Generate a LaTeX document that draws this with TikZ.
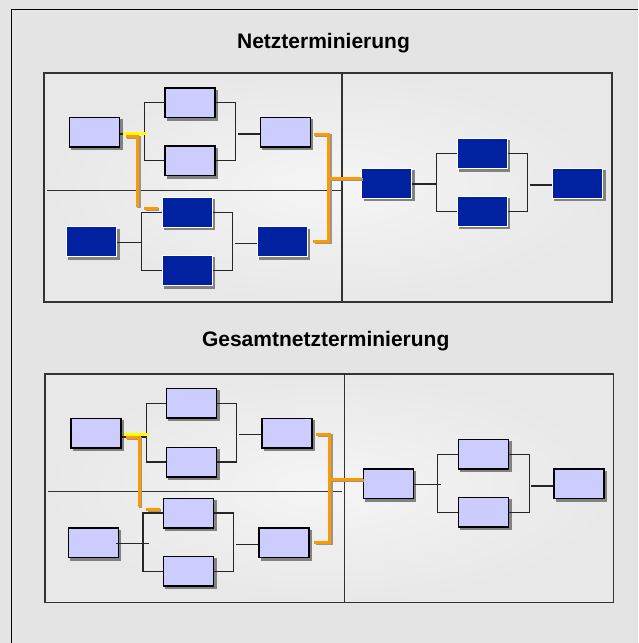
\documentclass[tikz,border=0pt]{standalone}
\usepackage{fontspec}
\setmainfont{Liberation Sans}
\definecolor{bgc}{RGB}{228,228,228}
\definecolor{panelin}{RGB}{245,245,245}
\definecolor{panelout}{RGB}{232,232,232}
\definecolor{lightb}{RGB}{204,204,255}
\definecolor{darkb}{RGB}{0,34,160}
\definecolor{orng}{RGB}{255,153,0}
\definecolor{ylw}{RGB}{255,255,0}
\definecolor{shd}{RGB}{130,130,130}
\definecolor{oshd}{RGB}{150,150,150}
\begin{document}
\begin{tikzpicture}[x=1pt,y=-1pt,
  boxshadow/.style={preaction={draw=shd,fill=shd,line width=1.4pt,transform canvas={xshift=2.4pt,yshift=-2.4pt}}},
  lbox/.style={boxshadow,draw=black,line width=1.5pt,fill=lightb,minimum width=50pt,minimum height=29.5pt,inner sep=0pt},
  dbox/.style={boxshadow,draw=white,line width=1pt,fill=darkb,minimum width=50pt,minimum height=30pt,inner sep=0pt},
  conn/.style={draw=black!85,line width=1.3pt},
  panelfill/.style={inner color=panelin,outer color=panelout},
  panel/.style={draw=black!80,line width=1.4pt},
  divider/.style={draw=black!80,line width=1.3pt},
  oline/.style={draw=orng,line width=3.3pt},
  oshadow/.style={draw=oshd,line width=3.3pt,transform canvas={xshift=1.2pt,yshift=-1.2pt}},
  yline/.style={draw=ylw,line width=3pt},
  title/.style={font=\fontsize{21}{25}\selectfont\bfseries,inner sep=0pt}
]
\useasboundingbox (0,0) rectangle (638,643);
\fill[bgc] (0,0) rectangle (638,643);
\draw[black,line width=1pt] (11,643) -- (11,9.5) -- (638,9.5);

% ---------------- top ----------------
\node[title] (t1) at (323.5,43) {Netzterminierung};
\shade[panelfill] (44,73) rectangle (612,302);
\draw[panel] (44,73) rectangle (612,302);
\draw[divider] (342,73) -- (342,302);
\draw[divider] (47,190.7) -- (341,190.7);

\node[lbox] (A) at (94.7,132.2) {};
\node[lbox] (B) at (190,102.8) {};
\node[lbox] (C) at (190,160.8) {};
\node[lbox] (D) at (285.3,132.2) {};
\node[dbox] (E) at (91.5,241.8) {};
\node[dbox] (F) at (187,212.2) {};
\node[dbox] (G) at (187,270.7) {};
\node[dbox] (H) at (282.3,241.8) {};
\node[dbox] (I) at (386.8,183) {};
\node[dbox] (J) at (482.3,153.5) {};
\node[dbox] (K) at (482.3,211.2) {};
\node[dbox] (L) at (577.5,183) {};

\coordinate (fa) at (144.7,134);
\coordinate (fb) at (235.3,134);
\draw[conn] (A.east |- fa) -- (fa);
\draw[conn] (B.west) -| (fa) |- (C.west);
\draw[conn] (B.east) -| (fb) |- (C.east);
\draw[conn] (fb) ++(2.5,0) -- (D.west |- fb);

\coordinate (fc) at (141.7,242.7);
\coordinate (fd) at (232.3,243.7);
\draw[conn] (E.east |- fc) -- (fc);
\draw[conn] (F.west) -| (fc) |- (G.west);
\draw[conn] (F.east) -| (fd) |- (G.east);
\draw[conn] (fd) ++(2.5,0) -- (H.west |- fd);

\coordinate (fe) at (436.7,184);
\coordinate (ff) at (527.7,185);
\draw[conn] (I.east |- fe) -- (fe);
\draw[conn] (J.west) -| (fe) |- (K.west);
\draw[conn] (J.east) -| (ff) |- (K.east);
\draw[conn] (ff) ++(2.5,0) -- (L.west |- ff);

% orange / yellow markers, top
\coordinate (o1) at (125.5,136.3);
\coordinate (o2) at (137.7,206.7);
\coordinate (o3) at (144.3,208.3);
\coordinate (o4) at (157.7,208.3);
\coordinate (o5) at (314,134.3);
\coordinate (o6) at (328.7,241.5);
\coordinate (o7) at (313.3,241.5);
\coordinate (o8) at (328.7,178.3);
\draw[oshadow] (o1) -| (o2);
\draw[oshadow] (o3) -- (o4);
\draw[oshadow] (o5) -| (o6) -- (o7);
\draw[oshadow] (o8) -- (o8 -| I.west);
\draw[yline] (123.3,133.3) -- (146.7,133.3);
\draw[oline] (o1) -| (o2);
\draw[oline] (o3) -- (o4);
\draw[oline] (o5) -| (o6) -- (o7);
\draw[oline] (o8) -- (o8 -| I.west);

% ---------------- bottom ----------------
\node[title] (t2) at (325.7,341.5) {Gesamtnetzterminierung};
\shade[panelfill] (45,374) rectangle (613.7,602.7);
\draw[panel] (45,374) rectangle (613.7,602.7);
\draw[divider] (344.3,374) -- (344.3,602.7);
\draw[divider] (48.3,491.7) -- (341.7,491.7);

\node[lbox] (A2) at (96,433) {};
\node[lbox] (B2) at (191.5,403.3) {};
\node[lbox] (C2) at (191.5,462) {};
\node[lbox] (D2) at (287,433) {};
\node[lbox] (E2) at (93.3,542.8) {};
\node[lbox] (F2) at (188.5,513) {};
\node[lbox] (G2) at (188.5,571.2) {};
\node[lbox] (H2) at (283.8,542.8) {};
\node[lbox] (I2) at (388.3,483.8) {};
\node[lbox] (J2) at (483.7,454.3) {};
\node[lbox] (K2) at (483.7,512.2) {};
\node[lbox] (L2) at (578.8,483.8) {};

\coordinate (ga) at (146.3,437);
\coordinate (gb) at (236.7,434.7);
\draw[conn] (A2.east |- ga) -- (ga);
\draw[conn] (B2.west) -| (ga) |- (C2.west);
\draw[conn] (B2.east) -| (gb) |- (C2.east);
\draw[conn] (gb) ++(2.5,0) -- (D2.west |- gb);

\coordinate (gc) at (143,543.7);
\coordinate (gd) at (233.7,544.3);
\draw[conn] (E2.east |- gc) ++(-3,0) -- ++(33,0);
\draw[conn] (F2.west) -| (gc) |- (G2.west);
\draw[conn] (F2.east) -| (gd) |- (G2.east);
\draw[conn] (gd) ++(2.5,0) -- (H2.west |- gd);

\coordinate (ge) at (437.7,484.3);
\coordinate (gf) at (529.3,486);
\draw[conn] (I2.east |- ge) -- ++(27,0);
\draw[conn] (J2.west) -| (ge) |- (K2.west);
\draw[conn] (J2.east) -| (gf) |- (K2.east);
\draw[conn] (gf) ++(2,0) -- (L2.west |- gf);

% orange / yellow markers, bottom
\coordinate (p1) at (126,437.3);
\coordinate (p2) at (139.3,506.7);
\coordinate (p3) at (146.3,509.3);
\coordinate (p4) at (159.7,509.3);
\coordinate (p5) at (316.3,434.3);
\coordinate (p6) at (329.7,542.3);
\coordinate (p7) at (314.3,542.3);
\coordinate (p8) at (329.7,479.3);
\draw[oshadow] (p1) -| (p2);
\draw[oshadow] (p3) -- (p4);
\draw[oshadow] (p5) -| (p6) -- (p7);
\draw[oshadow] (p8) -- (p8 -| I2.west);
\draw[yline] (124.3,434.3) -- (148.7,434.3);
\draw[oline] (p1) -| (p2);
\draw[oline] (p3) -- (p4);
\draw[oline] (p5) -| (p6) -- (p7);
\draw[oline] (p8) -- (p8 -| I2.west);
\end{tikzpicture}
\end{document}
